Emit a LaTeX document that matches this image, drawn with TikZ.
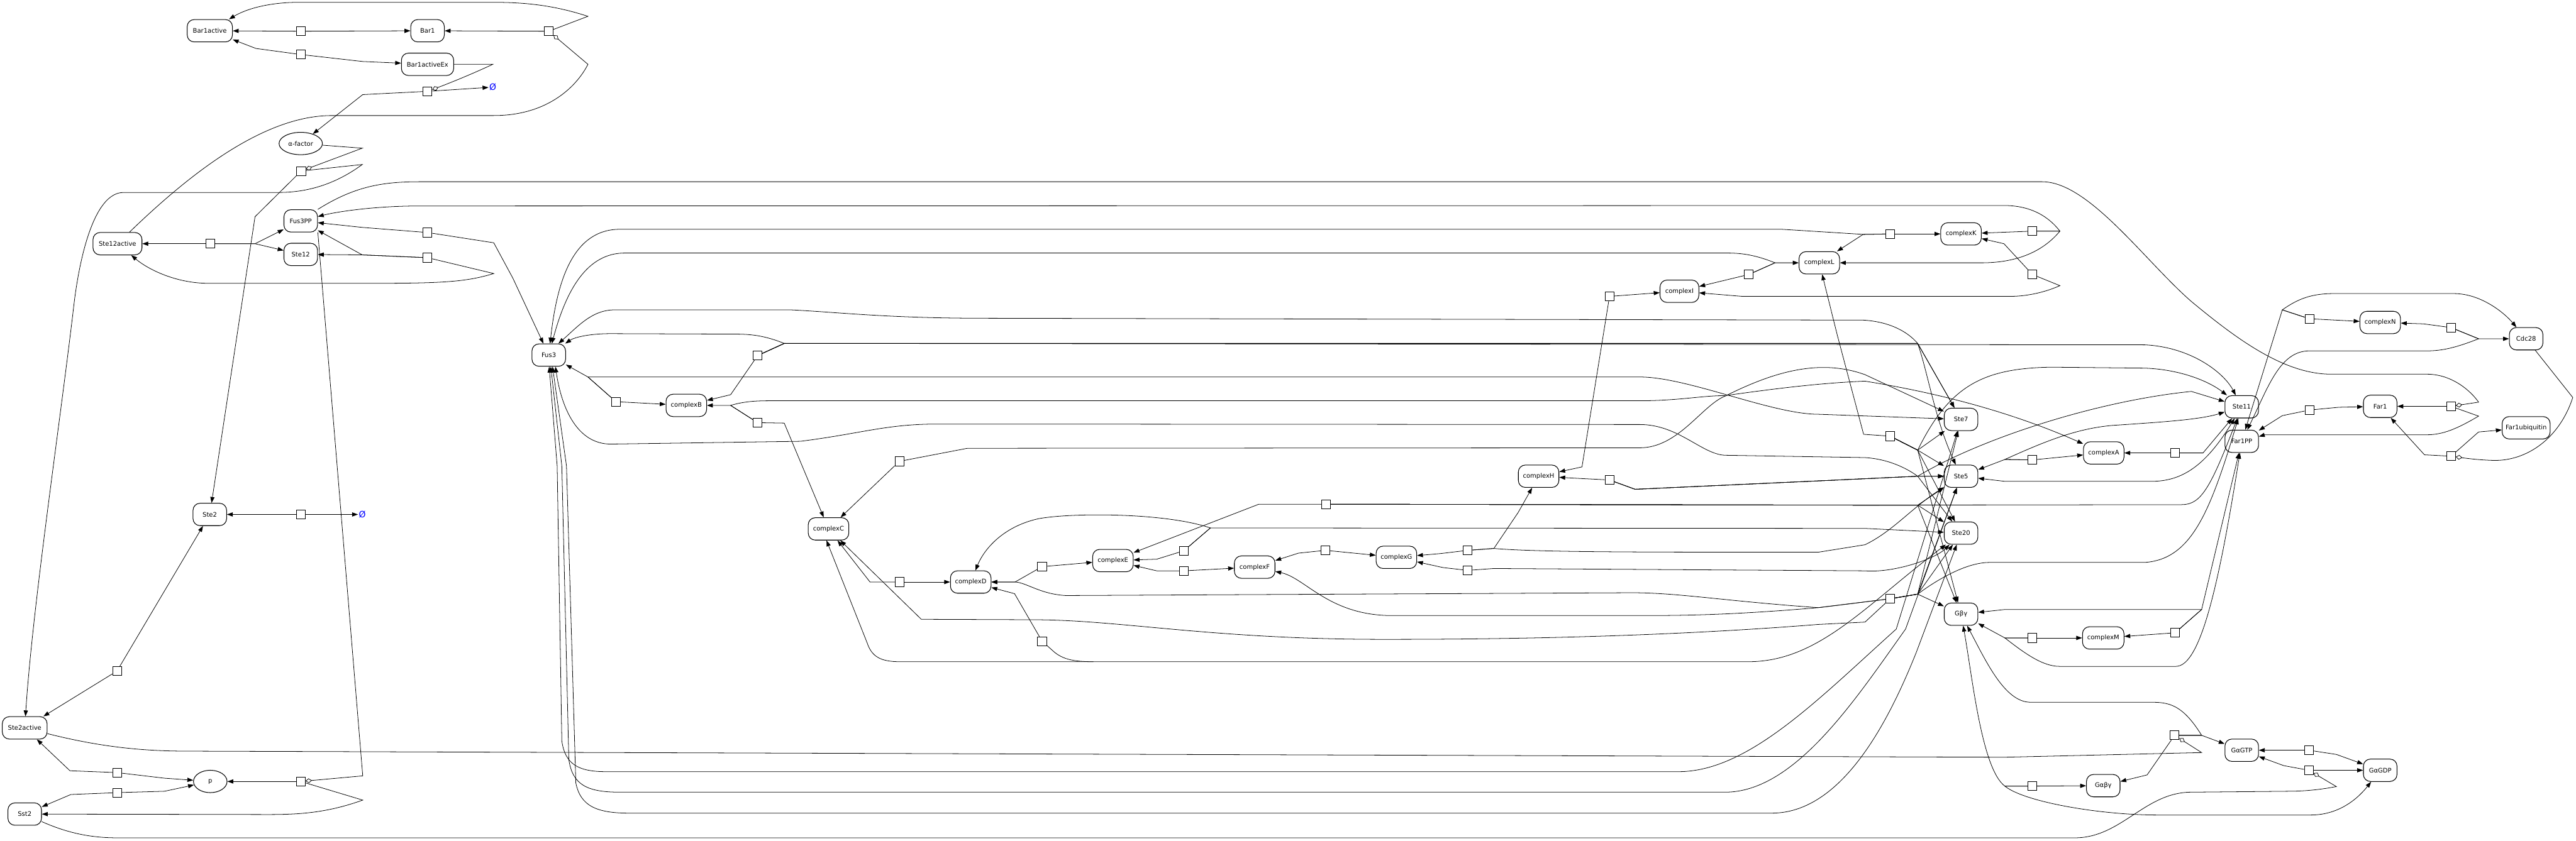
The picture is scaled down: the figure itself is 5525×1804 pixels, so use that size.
\documentclass[tikz,border=0pt]{standalone}
\usepackage{fontspec}
\setmainfont{DejaVu Sans}
\usetikzlibrary{arrows.meta,shapes.geometric}
\pgfdeclarelayer{bg}
\pgfsetlayers{bg,main}
\begin{document}
\begin{tikzpicture}[x=0.3mm,y=-0.3mm,
 sp/.style={draw,line width=1.2pt,rounded corners=4.5mm,minimum width=21.6mm,minimum height=14.4mm,inner xsep=1mm,inner ysep=0.5mm,font=\fontsize{11.5}{13}\selectfont},
 el/.style={draw,ellipse,line width=1.2pt,minimum width=21.6mm,minimum height=14.4mm,inner sep=0.5mm,font=\fontsize{11.5}{13}\selectfont},
 rx/.style={draw,fill=white,line width=1pt,minimum size=5.7mm,inner sep=0pt},
 ar/.style={line width=0.9pt,-{Triangle[length=3.8mm,width=2.7mm]}},
 arb/.style={line width=0.9pt,{Triangle[length=3.8mm,width=2.7mm]}-{Triangle[length=3.8mm,width=2.7mm]}},
 ln/.style={line width=0.9pt},
 md/.style={line width=0.9pt,-{Diamond[open,length=4.2mm,width=3mm]}},
 emp/.style={text=blue,inner sep=0.5mm,font=\fontsize{16}{18}\selectfont}]
\useasboundingbox (0,0) rectangle (5525,1804);
% species
\node[sp,minimum width=29.1mm] (Bar1active) at (450,66) {Bar1active};
\node[sp] (Bar1) at (917,66) {Bar1};
\node[sp,minimum width=33.6mm] (Bar1activeEx) at (917,138) {Bar1activeEx};
\node[emp] (O1) at (1057,187) {Ø};
\node[el,minimum width=27.9mm] (alpha) at (645,308) {α-factor};
\node[sp] (Fus3PP) at (645,474) {Fus3PP};
\node[sp] (Ste12) at (645,546) {Ste12};
\node[sp,minimum width=31.5mm] (Ste12active) at (252,523) {Ste12active};
\node[sp] (Fus3) at (1177,762) {Fus3};
\node[sp,minimum width=26.1mm] (complexB) at (1472,870) {complexB};
\node[sp,minimum width=26.1mm] (complexC) at (1777,1135) {complexC};
\node[sp,minimum width=26.1mm] (complexD) at (2082,1249) {complexD};
\node[sp,minimum width=26.1mm] (complexE) at (2387,1203) {complexE};
\node[sp,minimum width=26.1mm] (complexF) at (2691,1217) {complexF};
\node[sp,minimum width=26.1mm] (complexG) at (2995,1196) {complexG};
\node[sp,minimum width=26.1mm] (complexH) at (3300,1022) {complexH};
\node[sp,minimum width=25mm] (complexI) at (3602,625) {complexI};
\node[sp,minimum width=26.1mm] (complexL) at (3902,564) {complexL};
\node[sp,minimum width=26.1mm] (complexK) at (4206,502) {complexK};
\node[sp] (Ste7) at (4206,900) {Ste7};
\node[sp] (Ste5) at (4206,1022) {Ste5};
\node[sp] (Ste20) at (4206,1144) {Ste20};
\node[sp] (Gbg) at (4206,1318) {Gβγ};
\node[sp,minimum width=26.1mm] (complexA) at (4512,972) {complexA};
\node[sp,minimum width=26.7mm] (complexM) at (4511,1369) {complexM};
\node[sp] (Ste11) at (4808,873) {Ste11};
\node[sp] (Far1PP) at (4808,947) {Far1PP};
\node[sp] (GaGTP) at (4808,1610) {GαGTP};
\node[sp] (Gabg) at (4511,1686) {Gαβγ};
\node[sp] (GaGDP) at (5105,1653) {GαGDP};
\node[sp,minimum width=26.1mm] (complexN) at (5105,692) {complexN};
\node[sp] (Far1) at (5105,872) {Far1};
\node[sp] (Cdc28) at (5418,727) {Cdc28};
\node[sp,minimum width=30.9mm] (Far1ubiquitin) at (5418,918) {Far1ubiquitin};
\node[sp] (Ste2) at (450,1104) {Ste2};
\node[emp] (O2) at (777,1104) {Ø};
\node[sp,minimum width=28.8mm] (Ste2active) at (53,1562) {Ste2active};
\node[el] (p) at (451,1677) {p};
\node[sp] (Sst2) at (53,1747) {Sst2};
% reactions
\foreach \n/\x/\y in {r1/645/67,r2/645/117,r3/1177/67,r4/917/196,r5/646/367,r6/451/523,r7/917/499,r8/917/553,
 r9/1625/763,r10/1321/862,r11/1625/907,r12/1929/990,r13/1930/1249,r14/2235/1216,r15/2235/1376,r16/2539/1182,
 r17/2539/1225,r18/2843/1181,r19/3148/1181,r20/3148/1224,r21/3452/636,r22/3452/1030,r23/3751/589,r24/4054/502,
 r25/4359/496,r26/4359/589,r27/4054/936,r28/4359/987,r29/4665/972,r30/4054/1285,r31/4359/1369,r32/4665/1358,
 r33/4953/684,r34/5257/703,r35/4953/880,r36/5257/872,r37/5257/979,r38/645/1104,r39/251/1440,r40/251/1658,
 r41/251/1701,r42/645/1677,r43/4664/1578,r44/4952/1610,r45/4952/1653,r46/4359/1687,r47/2844/1082}
 {\node[rx] (\n) at (\x,\y) {};}
\coordinate (m15) at (2345,1420);
\begin{pgfonlayer}{bg}
% top-left
\draw[ar] (r1) -- (Bar1active);
\draw[ar] (r1) -- (Bar1);
\draw[ar] (r2) -- (549,104) -- (Bar1active);
\draw[ar] (r2) -- (778,132) -- (Bar1activeEx);
\draw[ar] (r3) -- (Bar1);
\draw[ar] (r3) -- (1261,35) .. controls (1190,12) and (1130,5) .. (1059,5) -- (640,5) .. controls (580,5) and (530,18) .. (Bar1active);
\draw[md] (Ste12active.44) .. controls (400,380) and (560,250) .. (708,248) -- (1059,248) .. controls (1180,248) and (1240,180) .. (1261,138) -- (r3);
\draw[ar] (r4) -- (778,203) -- (alpha);
\draw[ar] (r4) -- (O1);
\draw[md] (Bar1activeEx) -- (1057,138) .. controls (1010,160) and (960,180) .. (r4);
\draw[md] (alpha) -- (777,318) -- (r5);
\draw[ar] (r5) -- (777,353) .. controls (720,395) and (660,413) .. (598,413) -- (265,413) .. controls (200,413) and (170,560) .. (159,650) .. controls (130,900) and (70,1300) .. (Ste2active);
\draw[ar] (r5) -- (547,465) -- (Ste2);
\draw[ar] (r6) -- (Ste12active);
\draw[ar] (r6) -- (547,523) -- (Fus3PP);
\draw[ar] (r6) -- (547,523) -- (Ste12);
\draw[ar] (r7) -- (777,488) -- (Fus3PP);
\draw[ar] (r7) -- (1059,521) -- (1100,597) -- (Fus3);
\draw[ar] (r8) -- (777,547) -- (Ste12);
\draw[ar] (r8) -- (777,547) -- (Fus3PP);
\draw[ar] (r8) -- (1059,587) .. controls (1000,605) and (950,608) .. (795,608) -- (447,608) .. controls (380,608) and (320,580) .. (Ste12active);
\draw[md] (Fus3PP.south east) -- (778,1665) -- (r42);
\draw[md] (Fus3PP.north east) .. controls (760,400) and (820,390) .. (900,390) -- (4380,390) .. controls (4480,390) and (4600,560) .. (4700,647) .. controls (4800,730) and (4900,803) .. (5000,803) -- (5205,803) .. controls (5260,803) and (5300,840) .. (5316,863) -- (r36);
% bottom-left
\draw[ar] (r42) -- (p);
\draw[ar] (r42) -- (778,1717) .. controls (700,1745) and (640,1748) .. (574,1748) -- (Sst2);
\draw[ar] (r40) -- (150,1654) -- (Ste2active);
\draw[ar] (r40) -- (353,1670) -- (p);
\draw[ar] (r41) -- (152,1705) -- (Sst2);
\draw[ar] (r41) -- (353,1698) -- (p);
\draw[ar] (r39) -- (Ste2active);
\draw[ar] (r39) -- (Ste2);
\draw[ar] (r38) -- (Ste2);
\draw[ar] (r38) -- (O2);
\draw[md] (Ste2active) .. controls (250,1612) and (350,1612) .. (425,1612) -- (4300,1625) -- (4722,1615) -- (r43);
\draw[md] (Sst2) .. controls (150,1790) and (200,1798) .. (253,1798) -- (4450,1798) .. controls (4550,1798) and (4600,1700) .. (4700,1700) -- (4909,1698) .. controls (4960,1698) and (5000,1690) .. (5011,1688) -- (r45);
% G protein
\draw[ar] (r43) -- (4605,1663) -- (Gabg);
\draw[ar] (r43) -- (4722,1578) -- (GaGTP);
\draw[ar] (r43) -- (4722,1578) .. controls (4680,1510) and (4650,1507) .. (4612,1507) -- (4355,1507) .. controls (4300,1507) and (4260,1420) .. (Gbg);
\draw[ar] (r44) -- (GaGTP);
\draw[ar] (r44) -- (5011,1619) -- (GaGDP);
\draw[ar] (r45) -- (GaGDP);
\draw[ar] (r45) -- (4898,1643) -- (GaGTP);
\draw[ar] (r46) -- (Gabg);
\draw[ar] (r46) -- (4300,1687) .. controls (4340,1720) and (4500,1749) .. (4628,1749) -- (4956,1749) .. controls (5020,1749) and (5060,1710) .. (GaGDP);
\draw[ar] (r46) -- (4300,1687) .. controls (4250,1650) and (4230,1450) .. (Gbg);
% right
\draw[ar] (r33) -- (complexN);
\draw[ar] (r33) -- (4895,665) .. controls (4930,640) and (4960,630) .. (5005,630) -- (5263,630) .. controls (5320,630) and (5370,670) .. (Cdc28);
\draw[ar] (r33) -- (4895,665) -- (Far1PP);
\draw[ar] (r34) -- (5198,695) -- (complexN);
\draw[ar] (r34) -- (5316,727) -- (Cdc28);
\draw[ar] (r34) -- (5316,727) .. controls (5270,745) and (5240,753) .. (5205,753) -- (4953,753) .. controls (4890,753) and (4865,830) .. (Far1PP);
\draw[ar] (r35) -- (5016,874) -- (Far1);
\draw[ar] (r35) -- (4895,892) -- (Far1PP);
\draw[ar] (r36) -- (Far1);
\draw[ar] (r36) -- (5316,893) .. controls (5270,920) and (5240,933) .. (5205,933) -- (4858,933) -- (Far1PP);
\draw[ar] (r37) -- (5200,976) -- (Far1);
\draw[ar] (r37) -- (5316,927) -- (Far1ubiquitin);
\draw[md] (Cdc28) -- (5518,853) .. controls (5490,940) and (5420,990) .. (5347,988) .. controls (5320,987) and (5300,985) .. (r37);
% complexK / L / I
\draw[ar] (r25) -- (complexK);
\draw[ar] (r25) -- (4418,496) .. controls (4390,460) and (4350,441) .. (4298,441) -- (901,442) .. controls (800,442) and (720,455) .. (Fus3PP);
\draw[ar] (r25) -- (4418,496) .. controls (4390,530) and (4340,564) .. (4250,564) -- (complexL);
\draw[ar] (r24) -- (complexK);
\draw[ar] (r24) -- (3996,503) -- (complexL);
\draw[ar] (r23) -- (complexI);
\draw[ar] (r23) -- (3807,564) -- (complexL);
\draw[ar] (r26) -- (4298,523) -- (complexK);
\draw[ar] (r26) -- (4418,613) .. controls (4380,630) and (4340,636) .. (4312,636) -- (3737,636) -- (complexI);
\draw[ar] (r21) -- (complexI);
\draw[ar] (r21) -- (3393,1002) -- (complexH);
\draw[ar] (r22) -- (3393,1027) -- (complexH);
\draw[ar] (r24) -- (3996,503) -- (3821,492) -- (1330,492) .. controls (1230,492) and (1195,600) .. (Fus3);
\draw[ar] (r23) -- (3807,564) .. controls (3760,545) and (3730,543) .. (3702,543) -- (1340,543) .. controls (1260,543) and (1215,620) .. (Fus3);
% complexB
\draw[ar] (r9) -- (1567,847) -- (complexB);
\draw[ar] (r9) -- (1682,737) .. controls (1640,720) and (1610,717) .. (1577,717) -- (1310,716) .. controls (1260,716) and (1230,725) .. (Fus3);
\draw[ar] (r9) -- (1682,737) -- (4113,737) -- (Ste7);
\draw[ar] (r9) -- (1682,737) -- (4113,737) .. controls (4135,800) and (4150,900) .. (Ste5);
\draw[ar] (r9) -- (1682,737) -- (4600,740) .. controls (4700,745) and (4770,800) .. (Ste11);
\draw[ar] (r10) -- (1261,809) -- (Fus3);
\draw[ar] (r10) -- (complexB);
\draw[ar] (r10) -- (1261,809) -- (3517,809) .. controls (3620,809) and (3800,889) .. (3900,889) -- (Ste7);
\draw[ar] (r11) -- (1567,870) -- (complexB);
\draw[ar] (r11) -- (1682,908) -- (complexC);
\draw[ar] (r11) -- (1567,870) .. controls (1600,860) and (1630,860) .. (1661,860) -- (3517,860) .. controls (3600,860) and (3650,849) .. (3700,849) .. controls (3800,835) and (3900,822) .. (4000,818) .. controls (4200,850) and (4350,900) .. (complexA);
\draw[ar] (r12) -- (complexC);
\draw[ar] (r12) -- (2075,962) -- (3517,961) .. controls (3600,961) and (3650,870) .. (3700,850) .. controls (3800,800) and (3900,768) .. (4000,804) -- (Ste7);
% long connections to Fus3
\draw[arb] (Fus3.50) .. controls (1240,700) and (1270,665) .. (1318,665) -- (1696,665) .. controls (1800,670) and (1900,683) .. (2117,683) -- (3996,687) .. controls (4050,690) and (4090,710) .. (4113,737) -- (Ste7);
\draw[arb] (Fus3.-60) .. controls (1205,880) and (1240,953) .. (1310,953) -- (1717,947) .. controls (1850,930) and (1900,910) .. (2012,910) -- (3517,911) .. controls (3600,911) and (3650,975) .. (3700,977) -- (4000,982) .. controls (4050,985) and (4090,1005) .. (4113,1022) -- (Ste5);
\draw[arb] (Fus3.-88) -- (1195,1000) -- (1205,1590) .. controls (1212,1640) and (1240,1656) .. (1300,1656) -- (3600,1656) .. controls (3750,1656) and (3900,1500) .. (4067,1350) -- (Ste7);
\draw[arb] (Fus3.-80) -- (1205,1000) -- (1220,1630) .. controls (1228,1685) and (1260,1700) .. (1330,1700) -- (3700,1700) .. controls (3850,1700) and (3980,1500) .. (4087,1350) -- (Ste5);
\draw[arb] (Fus3.-72) -- (1215,1000) -- (1235,1680) .. controls (1245,1730) and (1280,1745) .. (1350,1745) -- (3800,1745) .. controls (3950,1745) and (4050,1550) .. (4110,1400) -- (Ste20);
% Ste cluster
\draw[ar] (r22) -- (3507,1050) -- (3900,1032) -- (4113,1022) -- (Ste5);
\draw[ar] (r22) -- (3507,1050) -- (3900,1032) -- (4113,1022) -- (Ste20);
\draw[ar] (r22) -- (3507,1050) -- (3900,1032) -- (4113,1022) .. controls (4250,940) and (4500,860) .. (4700,840) -- (Ste11);
\draw[arb] (Ste5) -- (4300,1033) -- (4614,1033) .. controls (4680,1033) and (4730,1000) .. (Ste11);
\draw[ar] (r19) -- (3204,1177) .. controls (3300,1185) and (3500,1185) .. (3900,1185) -- (4000,1169) .. controls (4060,1140) and (4100,1090) .. (Ste5);
\draw[ar] (r27) -- (3997,932) -- (3940,717) -- (complexL);
\draw[ar] (r27) -- (4113,966) -- (Ste7);
\draw[ar] (r27) -- (4113,966) -- (Ste5);
\draw[ar] (r27) -- (4113,966) -- (Ste20);
\draw[ar] (r27) -- (4113,966) -- (Gbg);
\draw[ar] (r27) -- (4113,966) .. controls (4180,830) and (4250,790) .. (4400,788) -- (4600,790) .. controls (4680,793) and (4740,820) .. (Ste11);
\draw[ar] (r47) -- (4000,1084) -- (4113,1084) -- (Ste5);
\draw[ar] (r47) -- (4000,1084) -- (4113,1084) -- (Ste20);
\draw[ar] (r47) -- (4000,1084) -- (4113,1084) -- (Gbg);
\draw[ar] (r47) -- (4000,1084) -- (4679,1083) .. controls (4720,1083) and (4740,1050) .. (Ste11);
\draw[ar] (r30) -- (3900,1304) .. controls (3700,1290) and (3600,1272) .. (3500,1272) -- (2286,1278) .. controls (2230,1275) and (2200,1249) .. (2176,1249) -- (complexD);
\draw[ar] (r30) -- (3900,1304) .. controls (3700,1321) and (3600,1321) .. (3500,1321) -- (2986,1321) .. controls (2850,1321) and (2800,1240) .. (complexF);
\draw[ar] (r30) -- (4000,1335) -- (3900,1340) .. controls (3500,1372) and (3100,1372) .. (2963,1372) .. controls (2600,1372) and (2400,1330) .. (2217,1330) -- (1976,1329) -- (complexC);
\draw[ar] (r30) -- (4113,1275) -- (Gbg);
\draw[ar] (r30) -- (4113,1275) -- (Ste20);
\draw[ar] (r30) -- (4113,1275) -- (Ste5);
\draw[ar] (r30) -- (4113,1275) -- (Ste7);
\draw[ar] (r30) -- (4113,1275) .. controls (4160,1240) and (4220,1207) .. (4267,1207) -- (4600,1207) .. controls (4700,1200) and (4740,1100) .. (Ste11);
\draw[arb] (complexC.-100) -- (1860,1380) .. controls (1870,1410) and (1890,1420) .. (1930,1420) -- (3750,1420) .. controls (3900,1420) and (4000,1300) .. (Ste20);
\draw[ln] (r15) -- (2262,1400) .. controls (2280,1414) and (2300,1420) .. (m15);
\draw[ar] (r28) -- (complexA);
\draw[ar] (r28) -- (4300,986) -- (Ste5);
\draw[ar] (r28) -- (4300,986) .. controls (4380,950) and (4450,920) .. (4530,913) .. controls (4650,905) and (4720,900) .. (Ste11);
\draw[ar] (r29) -- (complexA);
\draw[ar] (r29) -- (4725,972) -- (Ste11);
\draw[ar] (r31) -- (complexM);
\draw[ar] (r31) -- (4300,1369) -- (Gbg);
\draw[ar] (r31) -- (4300,1369) .. controls (4340,1400) and (4380,1430) .. (4417,1430) -- (4667,1430) .. controls (4720,1430) and (4760,1250) .. (Far1PP);
\draw[ar] (r32) -- (complexM);
\draw[ar] (r32) -- (4722,1308) -- (Far1PP);
\draw[ar] (r32) -- (4722,1308) -- (4300,1308) -- (Gbg);
% complexC..H
\draw[ar] (r13) -- (complexD);
\draw[ar] (r13) -- (1866,1249) -- (complexC);
\draw[ar] (r14) -- (complexE);
\draw[ar] (r14) -- (2177,1249) -- (complexD);
\draw[ar] (r15) -- (2176,1274) -- (complexD);
\draw[ar] (r16) -- (2481,1200) -- (complexE);
\draw[ar] (r16) -- (2596,1133) .. controls (2500,1100) and (2300,1100) .. (2228,1113) .. controls (2150,1130) and (2110,1180) .. (complexD);
\draw[ar] (r16) -- (2596,1133) -- (4000,1134) -- (Ste20);
\draw[ar] (r17) -- (2481,1225) -- (complexE);
\draw[ar] (r17) -- (complexF);
\draw[ar] (r18) -- (2785,1187) -- (complexF);
\draw[ar] (r18) -- (complexG);
\draw[ar] (r19) -- (3089,1188) -- (complexG);
\draw[ar] (r19) -- (3204,1177) -- (3256,1100) -- (complexH);
\draw[ar] (r20) -- (3095,1218) -- (complexG);
\draw[ar] (r20) -- (3204,1220) -- (4000,1225) .. controls (4060,1230) and (4150,1200) .. (Ste20);
\draw[ar] (r47) -- (2700,1082) -- (complexE);
\end{pgfonlayer}
\end{tikzpicture}
\end{document}
